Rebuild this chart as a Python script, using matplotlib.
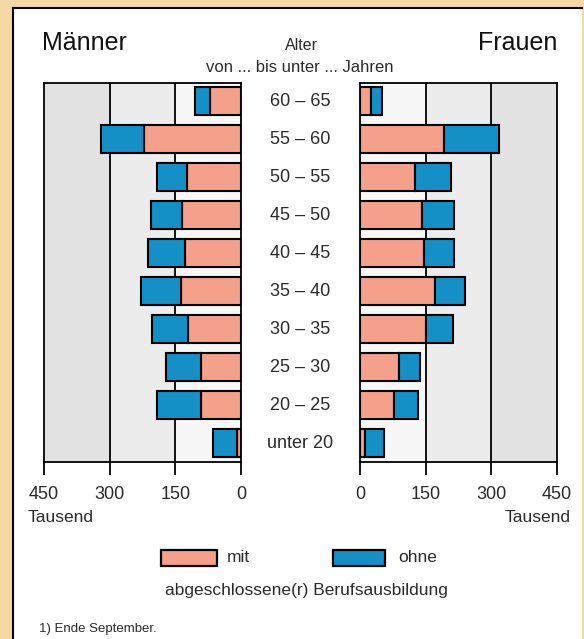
import matplotlib
matplotlib.use("Agg")
import matplotlib.pyplot as plt
import matplotlib.transforms as mtransforms
from matplotlib.patches import Rectangle
import numpy as np

plt.rcParams['font.family'] = ['Liberation Sans', 'DejaVu Sans']

# ---- data (thousands) ----
ages = ["60 – 65", "55 – 60", "50 – 55", "45 – 50", "40 – 45",
        "35 – 40", "30 – 35", "25 – 30", "20 – 25", "unter 20"]
men_mit = [71, 222, 124, 135, 129, 137, 120, 92, 92, 10]
men_ohne = [34, 98, 69, 71, 83, 91, 84, 79, 101, 53]
women_mit = [24, 193, 126, 141, 146, 171, 151, 90, 78, 11]
women_ohne = [26, 124, 83, 74, 69, 69, 61, 47, 54, 44]
xticks = [0, 150, 300, 450]
xticklabels = ["0", "150", "300", "450"]

c_mit = "#f4a08a"
c_ohne = "#1590c6"
tan = "#f5d8a2"
txt = "#2a2a2a"

W, H = 584, 639
fig = plt.figure(figsize=(W / 100, H / 100), dpi=100)
fig.patch.set_facecolor(tan)

# white card
card = Rectangle((13 / W, -0.01), (582 - 13) / W, 1 - 8 / H + 0.01,
                 transform=fig.transFigure, facecolor="white",
                 edgecolor="none", zorder=-5)
fig.patches.append(card)
fig.lines.append(plt.Line2D([13 / W, 13 / W], [0, 1 - 8 / H], transform=fig.transFigure,
                            color="black", lw=1.5, zorder=-4))
fig.lines.append(plt.Line2D([13 / W, 582 / W], [1 - 8 / H, 1 - 8 / H], transform=fig.transFigure,
                            color="black", lw=1.5, zorder=-4))

ax_bottom = 1 - 462 / H
ax_h = (462 - 83) / H
ax_w = (241 - 44) / W
axL = fig.add_axes([44 / W, ax_bottom, ax_w, ax_h])
axR = fig.add_axes([360 / W, ax_bottom, ax_w, ax_h])

y = np.arange(len(ages))[::-1]
bar_h = 0.74
bands = [(0, 150, "#f7f7f7"), (150, 300, "#ececec"), (300, 450, "#e2e2e2")]

for ax, mit, ohne, inv in [(axL, men_mit, men_ohne, True), (axR, women_mit, women_ohne, False)]:
    ax.set_zorder(2)
    ax.set_facecolor("white")
    for a, b, c in bands:
        ax.axvspan(a, b, color=c, zorder=0, lw=0)
    for g in (150, 300):
        ax.axvline(g, color="black", lw=1.3, zorder=1)
    ax.barh(y, mit, height=bar_h, color=c_mit, edgecolor="black", lw=1.5, zorder=3)
    ax.barh(y, ohne, left=mit, height=bar_h, color=c_ohne, edgecolor="black", lw=1.5, zorder=3)
    if inv:
        ax.set_xlim(450, 0)
    else:
        ax.set_xlim(0, 450)
    ax.set_ylim(-0.5, 9.474)
    ax.set_yticks([])
    ax.set_xticks(xticks)
    ax.set_xticklabels(xticklabels, fontsize=13, color=txt)
    ax.tick_params(axis="x", direction="out", length=9.5, width=1.3, pad=8)
    for s in ax.spines.values():
        s.set_linewidth(1.3)
        s.set_color("black")

# age labels
tr = mtransforms.blended_transform_factory(fig.transFigure, axL.transData)
for yi, lab in zip(y, ages):
    fig.text(300 / W, yi, lab, transform=tr, ha="center", va="center",
             fontsize=13, color=txt)

def fy(py):
    return 1 - py / H

fig.text(42 / W, fy(43), "Männer", fontsize=18, ha="left", va="center", color="#111111")
fig.text(557 / W, fy(43), "Frauen", fontsize=18, ha="right", va="center", color="#111111")
fig.text(301 / W, fy(46), "Alter", fontsize=11.5, ha="center", va="center", color=txt)
fig.text(300 / W, fy(68), "von ... bis unter ... Jahren", fontsize=12, ha="center",
         va="center", color=txt)

fig.text(28 / W, fy(518), "Tausend", fontsize=12.5, ha="left", va="center", color=txt)
fig.text(571 / W, fy(518), "Tausend", fontsize=12.5, ha="right", va="center", color=txt)

# legend
for x0, x1, col, lab, tx in [(161, 217, c_mit, "mit", 227), (333, 385, c_ohne, "ohne", 398)]:
    r = Rectangle((x0 / W, fy(566)), (x1 - x0) / W, 16 / H, transform=fig.transFigure,
                  facecolor=col, edgecolor="black", lw=1.6, zorder=3)
    fig.patches.append(r)
    fig.text(tx / W, fy(558), lab, fontsize=12.5, ha="left", va="center", color=txt)
fig.text(306 / W, fy(591), "abgeschlossene(r) Berufsausbildung", fontsize=12.5,
         ha="center", va="center", color=txt)
fig.text(39 / W, fy(629), "1) Ende September.", fontsize=9.5, ha="left", va="center",
         color=txt)

fig.savefig("out.png", dpi=100, facecolor=fig.get_facecolor())
